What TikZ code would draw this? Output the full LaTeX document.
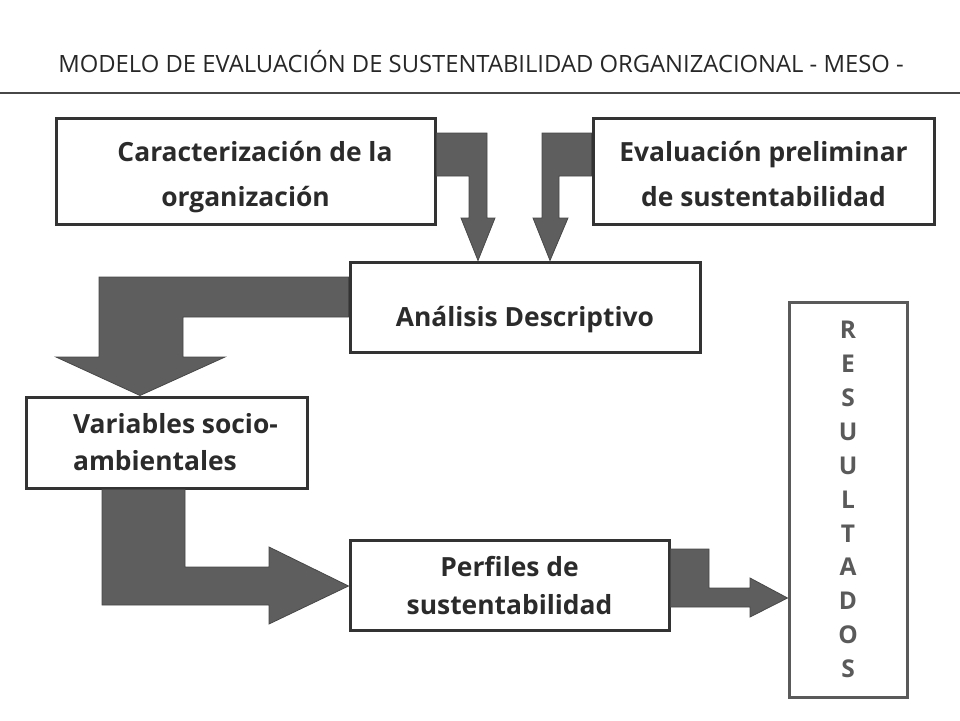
\documentclass[tikz,border=0pt]{standalone}
\usepackage{fontspec}
\setmainfont{Open Sans}
\usetikzlibrary{calc}
\definecolor{boxline}{HTML}{333333}
\definecolor{arrowfill}{HTML}{5E5E5E}
\definecolor{arrowline}{HTML}{474747}
\definecolor{txt}{HTML}{2B2B2B}
\definecolor{resline}{HTML}{5A5A5A}
\tikzset{
  box/.style={draw=boxline, line width=3pt, fill=white, inner sep=0pt,
    text=txt, font=\fontsize{26.4}{45}\selectfont\bfseries, align=center},
  resbox/.style={draw=resline, line width=3pt, fill=white, inner sep=0pt,
    text=resline, font=\fontsize{24.5}{33.9}\selectfont\bfseries, align=center},
  blockarrow/.style={fill=arrowfill, draw=arrowline, line width=0.8pt, line join=miter},
}
\begin{document}
\begin{tikzpicture}[x=1pt,y=-1pt]
\useasboundingbox (0,0) rectangle (960,720);
% title
\node[text=txt!90!black, font=\fontsize{23.8}{28}\selectfont] (title) at (481,62)
  {MODELO DE EVALUACIÓN DE SUSTENTABILIDAD ORGANIZACIONAL - MESO -};
\coordinate (rl) at (0,93);
\coordinate (rr) at (960,93);
\draw[line width=1.3pt, draw=boxline!90] (rl) -- (rr);

% boxes
\node[box, minimum width=379pt, minimum height=106pt] (car) at (245.5,171)
  {\rule{0pt}{32pt}\hspace*{19pt}Caracterización de la\\organización};
\node[box, minimum width=341pt, minimum height=106pt] (eva) at (763.5,171)
  {\rule{0pt}{27pt}Evaluación preliminar\\de sustentabilidad};
\node[box, minimum width=350pt, minimum height=90pt, text height=38pt, text depth=0pt] (ana) at (525,307)
  {Análisis Descriptivo};
\node[box, minimum width=281pt, minimum height=91pt, align=left, font=\fontsize{26.4}{37}\selectfont\bfseries] (var) at (166.5,442.5)
  {\hspace*{18pt}Variables socio-\\\hspace*{18pt}ambientales};
\node[box, minimum width=319pt, minimum height=90pt, font=\fontsize{26.4}{38}\selectfont\bfseries] (per) at (509.5,585.5)
  {Perfiles de\\sustentabilidad};
\node[resbox, minimum width=118pt, minimum height=395pt] (res) at (848,499.5)
  {R\\E\\S\\U\\U\\L\\T\\A\\D\\O\\S};

% block arrows
\draw[blockarrow] (car.east |- 0,133) -- (487,133) -- (487,218) -- (495,218)
  -- (ana.north -| 478,0) -- (461,218) -- (469,218) -- (469,176) -- (car.east |- 0,176) -- cycle;
\draw[blockarrow] (eva.west |- 0,133) -- (542,133) -- (542,218) -- (533,218)
  -- (ana.north -| 550,0) -- (568,218) -- (559,218) -- (559,176) -- (eva.west |- 0,176) -- cycle;
\draw[blockarrow] (ana.west |- 0,277) -- (99,277) -- (99,357) -- (56,357)
  -- (var.north -| 140,0) -- (225,357) -- (183,357) -- (183,317) -- (ana.west |- 0,317) -- cycle;
\draw[blockarrow] (var.south -| 102,0) -- (102,605) -- (269,605) -- (269,624)
  -- (per.west |- 0,586) -- (269,547) -- (269,567) -- (185,567) -- (var.south -| 185,0) -- cycle;
\draw[blockarrow] (per.east |- 0,549) -- (709,549) -- (709,588) -- (750,588) -- (750,578)
  -- (res.west |- 0,598) -- (750,617) -- (750,607) -- (per.east |- 0,607) -- cycle;
\end{tikzpicture}
\end{document}
